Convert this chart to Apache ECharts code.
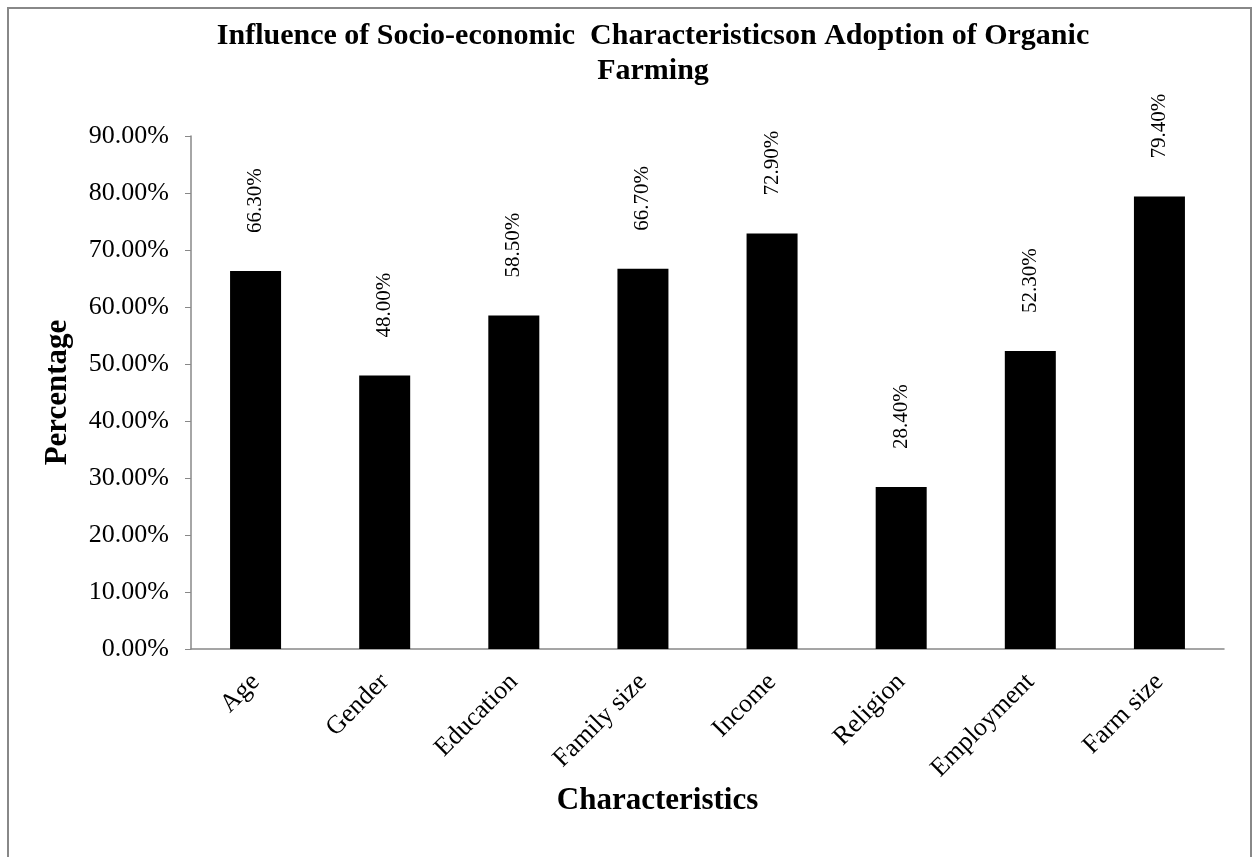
<!DOCTYPE html>
<html>
<head>
<meta charset="utf-8">
<script src="https://cdn.jsdelivr.net/npm/echarts@6/dist/echarts.min.js"></script>
<style>
  html, body { margin: 0; padding: 0; background: #fff; }
  #chart { width: 1253px; height: 857px; }
</style>
</head>
<body>
<div id="chart"></div>
<script>
// chart data
var categories = ['Age', 'Gender', 'Education', 'Family size', 'Income', 'Religion', 'Employment', 'Farm size'];
var adoption = [66.3, 48.0, 58.5, 66.7, 72.9, 28.4, 52.3, 79.4];
var yTicks = [0, 10, 20, 30, 40, 50, 60, 70, 80, 90];

var serif = '"Liberation Serif", "DejaVu Serif", serif';
var chart = echarts.init(document.getElementById('chart'));

chart.setOption({
    animation: false,
    title: {
        text: 'Influence of Socio-economic  Characteristicson Adoption of Organic\nFarming',
        left: 648,
        top: 14,
        textAlign: 'center',
        textStyle: {
            fontFamily: serif,
            fontWeight: 'bold',
            fontSize: 30,
            lineHeight: 35,
            color: '#000'
        }
    },
    graphic: [{
        type: 'rect',
        shape: { x: 8, y: 8, width: 1243, height: 900 },
        style: { fill: 'none', stroke: '#888', lineWidth: 2 },
        silent: true
    }],
    grid: {
        left: 191,
        right: 29,
        top: 136,
        bottom: 208
    },
    xAxis: {
        type: 'category',
        data: categories,
        name: 'Characteristics',
        nameLocation: 'middle',
        nameGap: 136,
        nameMoveOverlap: false,
        nameTextStyle: {
            fontFamily: serif,
            fontWeight: 'bold',
            fontSize: 31,
            color: '#000',
            padding: [0, 100, 0, 0]
        },
        axisLine: { lineStyle: { color: '#888', width: 1.5 } },
        axisTick: { show: false },
        axisLabel: {
            rotate: 45,
            margin: 29,
            fontFamily: serif,
            fontSize: 26,
            color: '#000'
        }
    },
    yAxis: {
        type: 'value',
        min: yTicks[0],
        max: yTicks[yTicks.length - 1],
        interval: 10,
        name: 'Percentage',
        nameLocation: 'middle',
        nameGap: 118,
        nameTextStyle: {
            fontFamily: serif,
            fontWeight: 'bold',
            fontSize: 31,
            color: '#000'
        },
        splitLine: { show: false },
        axisLine: { show: true, lineStyle: { color: '#888', width: 1.5 } },
        axisTick: { show: true, length: 6, lineStyle: { color: '#888' } },
        axisLabel: {
            margin: 22,
            fontFamily: serif,
            fontSize: 26,
            color: '#000',
            formatter: function (v) { return v.toFixed(2) + '%'; }
        }
    },
    series: [{
        name: 'Adoption',
        type: 'bar',
        data: adoption,
        barWidth: 51,
        itemStyle: { color: '#000' },
        label: {
            show: true,
            position: 'top',
            rotate: 90,
            align: 'left',
            verticalAlign: 'middle',
            distance: 38,
            fontFamily: serif,
            fontSize: 21,
            color: '#000',
            formatter: function (p) { return p.value.toFixed(2) + '%'; }
        }
    }]
});
</script>
</body>
</html>
